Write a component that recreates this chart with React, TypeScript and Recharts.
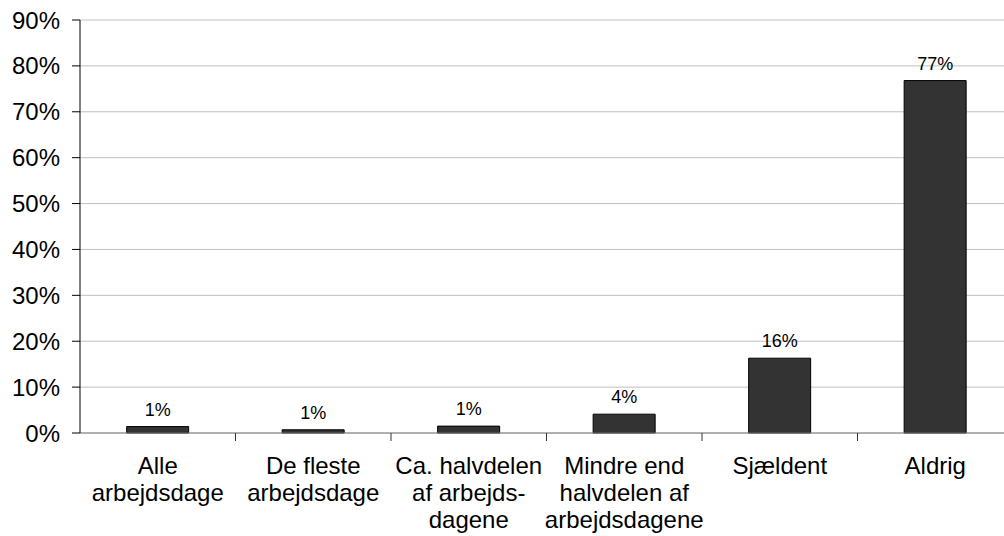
import { Bar, BarChart, CartesianGrid, LabelList, XAxis, YAxis } from "recharts";

const categories = [
  "Alle|arbejdsdage",
  "De fleste|arbejdsdage",
  "Ca. halvdelen|af arbejds-|dagene",
  "Mindre end|halvdelen af|arbejdsdagene",
  "Sjældent",
  "Aldrig",
];
const shares = [1.4, 0.7, 1.5, 4.1, 16.3, 76.8];
const shareLabels = ["1%", "1%", "1%", "4%", "16%", "77%"];
const yTicks = [0, 10, 20, 30, 40, 50, 60, 70, 80, 90];

const data = categories.map((name, i) => ({
  name,
  value: shares[i],
  label: shareLabels[i],
}));

const FONT = "'Liberation Sans', Arial, sans-serif";
const CHART_W = 1021;
const CHART_H = 536;
const Y_AXIS_W = 80;
const RIGHT = 8;
const BAND = (CHART_W - Y_AXIS_W - RIGHT) / categories.length;

function CategoryTick(props: any) {
  const { x, y, payload, index } = props;
  const lines = String(payload.value).split("|");
  return (
    <g>
      {index < categories.length - 1 && (
        <line x1={x + BAND / 2} x2={x + BAND / 2} y1={y} y2={y + 8} stroke="#333" />
      )}
      {lines.map((line, i) => (
        <text
          key={i}
          x={x}
          y={y + 41 + i * 27}
          textAnchor="middle"
          fontSize={24}
          fontFamily={FONT}
          fill="#000"
        >
          {line}
        </text>
      ))}
    </g>
  );
}

export default function App() {
  return (
    <div
      style={{
        position: "fixed",
        left: 0,
        top: 0,
        width: 1004,
        height: 536,
        overflow: "hidden",
        background: "#fff",
      }}
    >
      <BarChart
        width={CHART_W}
        height={CHART_H}
        data={data}
        margin={{ top: 20, right: RIGHT, left: 0, bottom: 0 }}
        barCategoryGap="30%"
      >
        <CartesianGrid vertical={false} stroke="#c0c0c0" />
        <XAxis
          dataKey="name"
          interval={0}
          height={103}
          axisLine={{ stroke: "#808080" }}
          tickLine={false}
          tickSize={0}
          tickMargin={0}
          tick={<CategoryTick />}
        />
        <YAxis
          width={Y_AXIS_W}
          domain={[0, 90]}
          ticks={yTicks}
          interval={0}
          tickFormatter={(v) => `${v}%`}
          axisLine={{ stroke: "#000" }}
          tickLine={{ stroke: "#000" }}
          tickSize={8}
          tickMargin={12}
          tick={{ fontSize: 24, fill: "#000", fontFamily: FONT }}
        />
        <Bar dataKey="value" fill="#333333" stroke="#000" strokeWidth={1} isAnimationActive={false}>
          <LabelList
            dataKey="label"
            position="top"
            offset={11}
            style={{ fontSize: 18, fill: "#000", fontFamily: FONT }}
          />
        </Bar>
      </BarChart>
    </div>
  );
}
